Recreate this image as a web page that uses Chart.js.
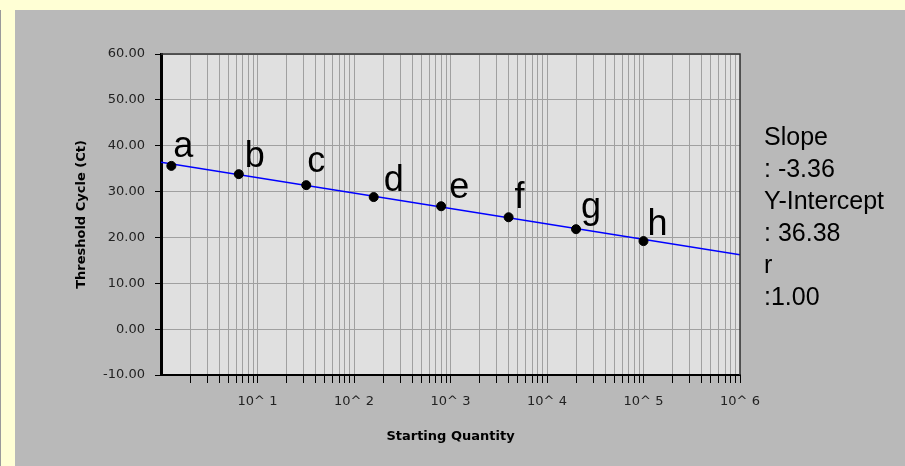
<!DOCTYPE html>
<html>
<head>
<meta charset="utf-8">
<title>Standard Curve</title>
<script src="https://cdn.jsdelivr.net/npm/chart.js@4.4.1/dist/chart.umd.min.js"></script>
<style>
  html, body { margin: 0; padding: 0; }
  body { width: 905px; height: 466px; background: #FFFFD5; position: relative; overflow: hidden; }
  #edge { position: absolute; left: 0; top: 10px; width: 1px; height: 456px; background: #9a9a9a; }
  #panel { position: absolute; left: 15px; top: 10px; width: 890px; height: 456px; background: #B9B9B9; }
  #chart { position: absolute; left: 0; top: 0; width: 890px; height: 456px; }
  #stats { position: absolute; left: 749px; top: 110px; font-family: "Liberation Sans", Arial, sans-serif;
           font-size: 25px; line-height: 32px; color: #000; white-space: pre; }
</style>
</head>
<body>
<div id="edge"></div>
<div id="panel">
  <canvas id="chart" width="890" height="456"></canvas>
  <div id="stats"></div>
</div>
<script>
// Standard dilution series: starting quantity vs threshold cycle
const sampleNames = ['a', 'b', 'c', 'd', 'e', 'f', 'g', 'h'];
const startingQuantity = [1.28, 6.4, 32, 160, 800, 4000, 20000, 100000];
const thresholdCycle = [35.6, 33.8, 31.4, 28.8, 26.8, 24.4, 21.8, 19.2];

// Regression results
const slope = -3.36;
const yIntercept = 36.38;
const rValue = 1.00;
const statsLines = ['Slope', ': -3.36', 'Y-Intercept', ': 36.38', 'r', ':1.00'];

// Axes
const yTickValues = [-10, 0, 10, 20, 30, 40, 50, 60];
const decadeLabels = ['10^ 1', '10^ 2', '10^ 3', '10^ 4', '10^ 5', '10^ 6'];
const xMin = 1, xMax = 1e6;
const xTitle = 'Starting Quantity';
const yTitle = 'Threshold Cycle (Ct)';

// where each sample letter sits relative to its dot (px: right, up)
const nameOffsets = [[2, 9], [6, 7], [1, 13], [10, 6], [8, 8], [6, 9], [5, 11], [4, 6]];

document.getElementById('stats').textContent = statsLines.join('\n');

const points = startingQuantity.map((q, i) => ({ x: q, y: thresholdCycle[i] }));
const fitLine = [
  { x: xMin, y: yIntercept + slope * Math.log10(xMin) },
  { x: xMax, y: yIntercept + slope * Math.log10(xMax) }
];

// tick positions 1..9 in every decade
function logTicks() {
  const t = [];
  for (let e = 0; e < 6; e++) {
    for (let m = 1; m <= 9; m++) t.push({ value: m * Math.pow(10, e) });
  }
  t.push({ value: xMax });
  return t;
}

const plotFrame = {
  id: 'plotFrame',
  beforeDraw(chart) {
    const a = chart.chartArea, c = chart.ctx;
    c.save();
    c.fillStyle = '#E0E0E0';
    c.fillRect(a.left, a.top, a.right - a.left, a.bottom - a.top);
    c.restore();
  },
  afterDraw(chart) {
    const a = chart.chartArea, c = chart.ctx;
    c.save();
    c.strokeStyle = '#333';
    c.lineWidth = 1.5;
    c.beginPath();
    c.moveTo(a.left, a.top);
    c.lineTo(a.right, a.top);
    c.lineTo(a.right, a.bottom);
    c.stroke();
    c.restore();
  }
};

const pointNames = {
  id: 'pointNames',
  afterDatasetsDraw(chart) {
    const meta = chart.getDatasetMeta(1);
    const c = chart.ctx;
    c.save();
    c.fillStyle = '#000';
    c.font = '36px "Liberation Sans", Arial, sans-serif';
    c.textAlign = 'left';
    c.textBaseline = 'alphabetic';
    meta.data.forEach((el, i) => {
      const [dx, dy] = nameOffsets[i];
      c.fillText(sampleNames[i], el.x + dx, el.y - dy);
    });
    c.restore();
  }
};

new Chart(document.getElementById('chart'), {
  data: {
    datasets: [
      {
        type: 'line',
        data: fitLine,
        borderColor: '#0000FF',
        borderWidth: 1.5,
        pointRadius: 0,
        fill: false,
        order: 2
      },
      {
        type: 'scatter',
        data: points,
        backgroundColor: '#000',
        borderColor: '#000',
        pointRadius: 4.5,
        pointHoverRadius: 4.5,
        order: 1
      }
    ]
  },
  options: {
    responsive: false,
    animation: false,
    events: [],
    layout: { padding: { left: 0, top: 44, right: 165, bottom: 0 } },
    plugins: { legend: { display: false }, tooltip: { enabled: false } },
    scales: {
      x: {
        type: 'logarithmic',
        min: xMin,
        max: xMax,
        afterBuildTicks(scale) { scale.ticks = logTicks(); },
        afterFit(scale) { scale.height = 91; },
        grid: {
          color: '#A0A0A0',
          lineWidth: 1,
          tickColor: (ctx) => (ctx.index === 0 ? 'rgba(0,0,0,0)' : '#000'),
          tickLength: 8,
          tickWidth: 1
        },
        border: { color: '#000', width: 2 },
        ticks: {
          autoSkip: false,
          maxRotation: 0,
          padding: 11,
          color: '#222',
          font: { family: '"DejaVu Sans", Verdana, sans-serif', size: 13 },
          callback(value) {
            const e = Math.round(Math.log10(value));
            if (e >= 1 && Math.abs(value - Math.pow(10, e)) < 1e-6) return decadeLabels[e - 1];
            return '';
          }
        },
        title: {
          display: true,
          text: xTitle,
          color: '#000',
          font: { family: '"DejaVu Sans", Verdana, sans-serif', size: 13, weight: 'bold' },
          padding: { top: 0, bottom: 22 }
        }
      },
      y: {
        type: 'linear',
        min: -10,
        max: 60,
        afterBuildTicks(scale) { scale.ticks = yTickValues.map(v => ({ value: v })); },
        afterFit(scale) { scale.width = 146; },
        grid: { color: '#A0A0A0', lineWidth: 1, tickColor: '#000', tickLength: 6, tickWidth: 1 },
        border: { color: '#000', width: 3 },
        ticks: {
          padding: 10,
          color: '#222',
          font: { family: '"DejaVu Sans", Verdana, sans-serif', size: 13 },
          callback(value) { return Number(value).toFixed(2); }
        },
        title: {
          display: true,
          text: yTitle,
          color: '#000',
          font: { family: '"DejaVu Sans", Verdana, sans-serif', size: 13, weight: 'bold' },
          padding: { top: 59, bottom: 0 }
        }
      }
    }
  },
  plugins: [plotFrame, pointNames]
});
</script>
</body>
</html>
